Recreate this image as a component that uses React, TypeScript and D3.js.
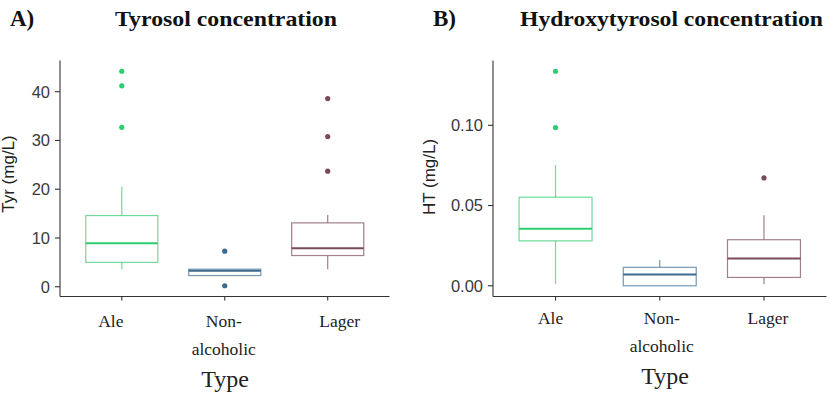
import React from "react";
import * as d3 from "d3";

const categories = ["Ale", "Non-alcoholic", "Lager"];
const categoryLabels = [["Ale"], ["Non-", "alcoholic"], ["Lager"]];
const colors = ["#2ecc71", "#3d6b8e", "#7b4a5a"];

// Tyrosol (mg/L)
const tyrQ1 = [5.0, 2.3, 6.4];
const tyrMedian = [8.9, 3.3, 7.9];
const tyrQ3 = [14.6, 3.6, 13.1];
const tyrWhiskerLow = [3.6, 2.3, 3.6];
const tyrWhiskerHigh = [20.5, 3.6, 14.7];
const tyrOutliers = [[44.2, 41.2, 32.7], [7.3, 0.2], [38.6, 30.8, 23.7]];
const tyrTicks = [0, 10, 20, 30, 40];

// Hydroxytyrosol (mg/L)
const htQ1 = [0.028, 0.0, 0.0052];
const htMedian = [0.0355, 0.0071, 0.017];
const htQ3 = [0.0552, 0.0115, 0.0287];
const htWhiskerLow = [0.001, 0.0, 0.001];
const htWhiskerHigh = [0.0752, 0.016, 0.044];
const htOutliers = [[0.1337, 0.0986], [], [0.0672]];
const htTicks = [0, 0.05, 0.1];

type PanelProps = {
  left: number;
  right: number;
  letter: string;
  letterX: number;
  title: string;
  titleX: number;
  titleWidth: number;
  yLabel: string;
  yLabelX: number;
  yLabelY: number;
  q1: number[];
  med: number[];
  q3: number[];
  wlo: number[];
  whi: number[];
  outs: number[][];
  ticks: number[];
  fmt: (v: number) => string;
  labelShift: number[];
  labelY: number;
  typeX: number;
  typeY: number;
};

function Panel(p: PanelProps) {
  const top = 60.5;
  const bottom = 296.5;
  const all = [...p.wlo, ...p.whi, ...p.outs.flat()];
  const lo = d3.min(all) as number;
  const hi = d3.max(all) as number;
  const pad = (hi - lo) * 0.05;
  const y = d3.scaleLinear().domain([lo - pad, hi + pad]).range([bottom, top]);
  const x = d3
    .scaleBand()
    .domain(categories)
    .range([p.left, p.right])
    .paddingInner(0)
    .paddingOuter(0.1);
  const bw = x.bandwidth();
  const boxW = bw * 0.7;
  const axisColor = "#333333";
  return (
    <g>
      <text x={p.letterX} y={26} fontFamily="Liberation Serif, serif" fontWeight="bold" fontSize={23} fill="#111">
        {p.letter}
      </text>
      <text
        x={p.titleX}
        y={26}
        fontFamily="Liberation Serif, serif"
        fontWeight="bold"
        fontSize={22}
        fill="#111"
        textLength={p.titleWidth}
        lengthAdjust="spacingAndGlyphs"
      >
        {p.title}
      </text>
      {categories.map((c, i) => {
        const cx = (x(c) as number) + bw / 2;
        const col = colors[i];
        return (
          <g key={c}>
            <line x1={cx} x2={cx} y1={y(p.q3[i])} y2={y(p.whi[i])} stroke={col} strokeOpacity={0.7} strokeWidth={1.2} />
            <line x1={cx} x2={cx} y1={y(p.q1[i])} y2={y(p.wlo[i])} stroke={col} strokeOpacity={0.7} strokeWidth={1.2} />
            <rect
              x={cx - boxW / 2}
              y={y(p.q3[i])}
              width={boxW}
              height={y(p.q1[i]) - y(p.q3[i])}
              fill="white"
              stroke={col}
              strokeOpacity={0.7}
              strokeWidth={1.2}
            />
            <line x1={cx - boxW / 2} x2={cx + boxW / 2} y1={y(p.med[i])} y2={y(p.med[i])} stroke={col} strokeWidth={2} />
            {p.outs[i].map((v, j) => (
              <circle key={j} cx={cx} cy={y(v)} r={2.6} fill={col} />
            ))}
          </g>
        );
      })}
      <line x1={p.left} x2={p.left} y1={top} y2={bottom} stroke={axisColor} strokeWidth={1.1} />
      <line x1={p.left} x2={p.right} y1={bottom} y2={bottom} stroke={axisColor} strokeWidth={1.1} />
      {p.ticks.map((t) => (
        <g key={t}>
          <line x1={p.left - 5} x2={p.left} y1={y(t)} y2={y(t)} stroke={axisColor} strokeWidth={1.1} />
          <text
            x={p.left - 10}
            y={y(t)}
            dy="0.36em"
            textAnchor="end"
            fontFamily="Liberation Sans, Arial, sans-serif"
            fontSize={16.5}
            fill="#3a3a3a"
          >
            {p.fmt(t)}
          </text>
        </g>
      ))}
      {categories.map((c, i) => {
        const cx = (x(c) as number) + bw / 2;
        return (
          <g key={c}>
            <line x1={cx} x2={cx} y1={bottom} y2={bottom + 4} stroke={axisColor} strokeWidth={1.1} />
            {categoryLabels[i].map((s, k) => (
              <text
                key={k}
                x={cx + p.labelShift[i]}
                y={p.labelY + k * 28}
                textAnchor="middle"
                fontFamily="Liberation Serif, serif"
                fontSize={17.5}
                fill="#222"
              >
                {s}
              </text>
            ))}
          </g>
        );
      })}
      <text
        x={p.typeX}
        y={p.typeY}
        textAnchor="middle"
        fontFamily="Liberation Serif, serif"
        fontSize={24}
        fill="#222"
      >
        Type
      </text>
      <text
        transform={`translate(${p.yLabelX},${p.yLabelY}) rotate(-90)`}
        textAnchor="middle"
        fontFamily="Liberation Sans, Arial, sans-serif"
        fontSize={17}
        fill="#222"
      >
        {p.yLabel}
      </text>
    </g>
  );
}

export default function App() {
  return (
    <svg width={830} height={398} style={{ position: "absolute", left: 0, top: 0, background: "white" }}>
      <rect width={830} height={398} fill="white" />
      <Panel
        left={60}
        right={389.5}
        letter="A)"
        letterX={10}
        title="Tyrosol concentration"
        titleX={115}
        titleWidth={222}
        yLabel="Tyr (mg/L)"
        yLabelX={14}
        yLabelY={174}
        q1={tyrQ1}
        med={tyrMedian}
        q3={tyrQ3}
        wlo={tyrWhiskerLow}
        whi={tyrWhiskerHigh}
        outs={tyrOutliers}
        ticks={tyrTicks}
        fmt={(v) => d3.format("d")(v)}
        labelShift={[-11, -1, 12]}
        labelY={327}
        typeX={225}
        typeY={387}
      />
      <Panel
        left={493}
        right={826.5}
        letter="B)"
        letterX={433}
        title="Hydroxytyrosol concentration"
        titleX={520}
        titleWidth={303}
        yLabel="HT (mg/L)"
        yLabelX={435}
        yLabelY={177}
        q1={htQ1}
        med={htMedian}
        q3={htQ3}
        wlo={htWhiskerLow}
        whi={htWhiskerHigh}
        outs={htOutliers}
        ticks={htTicks}
        fmt={(v) => d3.format(".2f")(v)}
        labelShift={[-5, 2, 4]}
        labelY={324}
        typeX={665}
        typeY={384}
      />
    </svg>
  );
}
